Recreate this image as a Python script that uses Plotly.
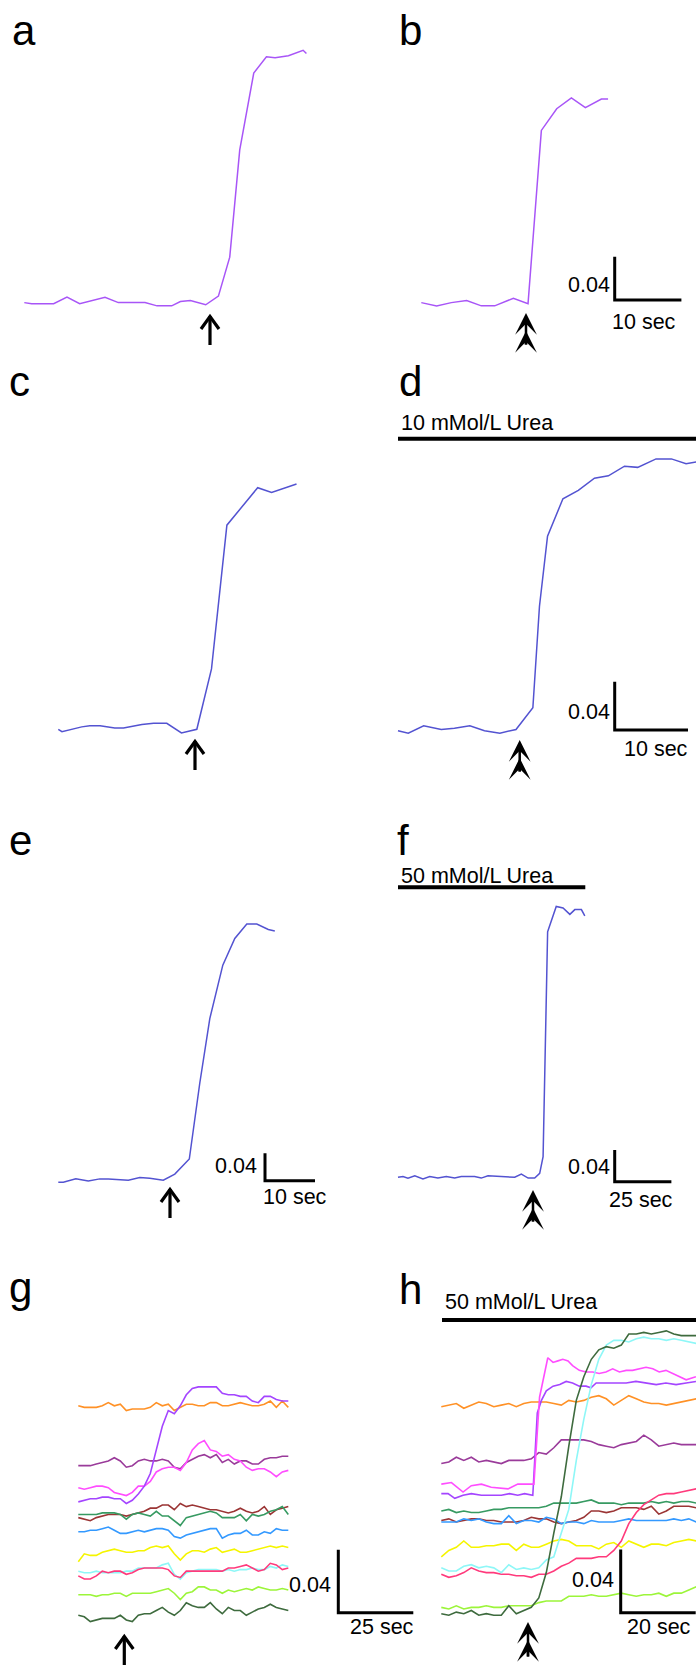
import plotly.graph_objects as go

W, H = 696, 1666
FONT = "Liberation Sans, Arial, Helvetica, sans-serif"

# ---------------- data (time in s, absorbance in OD units) ----------------
A_T = [0, 1.1, 4.4, 6.4, 8.3, 10.4, 12.1, 14.1, 18.1, 19.9, 22.1, 23.4, 24.9, 27.2, 29.1, 30.8, 32.3, 34.4, 36.3, 37.6, 39.6, 41.8, 42.3]
A_OD = [0.001, 0.000, 0.000, 0.006, 0.000, 0.003, 0.006, 0.001, 0.001, -0.002, -0.002, 0.002, 0.003, -0.001, 0.007, 0.043, 0.142, 0.213, 0.228, 0.227, 0.229, 0.234, 0.231]

B_T = [0, 2.3, 4.5, 6.8, 9.0, 11.0, 13.8, 16.0, 18.0, 20.3, 22.5, 24.6, 27.0, 28.0]
B_OD = [0.001, -0.002, 0.001, 0.003, -0.002, -0.002, 0.005, 0.000, 0.160, 0.180, 0.190, 0.181, 0.189, 0.189]

C_T = [0, 0.5, 3.2, 4.3, 5.7, 7.7, 8.9, 11.4, 13.0, 14.8, 16.8, 18.9, 20.9, 23.0, 27.2, 29.1, 32.5]
C_OD = [0.000, -0.002, 0.002, 0.003, 0.003, 0.001, 0.001, 0.004, 0.005, 0.005, -0.003, 0.000, 0.050, 0.169, 0.200, 0.196, 0.203]

D_T = [0, 1.4, 3.5, 5.9, 7.7, 9.8, 11.8, 13.9, 16.1, 18.4, 19.3, 20.4, 22.5, 24.6, 26.8, 28.7, 30.9, 32.7, 35.2, 37.3, 39.3, 41.2]
D_OD = [0.000, -0.002, 0.004, 0.001, 0.002, 0.004, 0.000, -0.002, 0.001, 0.019, 0.103, 0.161, 0.192, 0.199, 0.209, 0.211, 0.219, 0.218, 0.225, 0.225, 0.221, 0.223]

E_T = [0, 1.0, 3.5, 6.0, 8.3, 10.0, 14.0, 16.3, 18.3, 21.0, 23.3, 26.2, 28.3, 30.3, 32.9, 35.3, 37.7, 39.7, 42.0, 43.3]
E_OD = [0.000, 0.000, 0.005, 0.002, 0.005, 0.005, 0.003, 0.007, 0.006, 0.003, 0.012, 0.034, 0.145, 0.239, 0.317, 0.356, 0.377, 0.377, 0.369, 0.367]

F_T = [0, 2.2, 4.4, 7.4, 11.0, 14.0, 17.6, 21.3, 25.0, 27.9, 33.8, 36.7, 39.7, 48.5, 51.5, 54.4, 57.4, 60.3, 62.5, 64.0, 64.7, 65.6, 66.0, 66.6, 68.3, 69.8, 72.8, 75.8, 78.0, 80.9, 82.4]
F_OD = [0.000, 0.001, -0.001, 0.002, -0.002, 0.001, -0.001, 0.001, -0.001, 0.001, 0.001, -0.001, 0.002, 0.000, 0.000, 0.004, -0.001, -0.001, 0.005, 0.026, 0.132, 0.237, 0.310, 0.315, 0.331, 0.342, 0.340, 0.332, 0.338, 0.338, 0.330]

# panel g: 12 cells, common time base
G_T = [0, 2, 4, 6, 8, 10, 12, 14, 16, 18, 20, 22, 24, 26, 28, 30, 32, 34, 36, 38, 40, 42, 44, 46, 48, 50, 52, 54, 56, 58, 60, 62, 64, 66, 68, 70]
G_ORANGE = [0.136, 0.135, 0.135, 0.135, 0.136, 0.138, 0.136, 0.137, 0.133, 0.134, 0.134, 0.134, 0.135, 0.138, 0.136, 0.137, 0.133, 0.135, 0.137, 0.137, 0.136, 0.136, 0.138, 0.138, 0.136, 0.136, 0.137, 0.138, 0.137, 0.136, 0.136, 0.137, 0.139, 0.135, 0.139, 0.135]
G_VIOLET = [0.075, 0.076, 0.077, 0.077, 0.078, 0.078, 0.077, 0.077, 0.074, 0.076, 0.080, 0.085, 0.093, 0.108, 0.123, 0.133, 0.131, 0.136, 0.143, 0.147, 0.148, 0.148, 0.148, 0.148, 0.144, 0.143, 0.143, 0.142, 0.142, 0.139, 0.138, 0.142, 0.142, 0.140, 0.139, 0.139]
G_PLUM = [0.098, 0.098, 0.098, 0.099, 0.100, 0.101, 0.103, 0.101, 0.097, 0.098, 0.101, 0.102, 0.101, 0.101, 0.102, 0.101, 0.097, 0.096, 0.100, 0.102, 0.104, 0.105, 0.103, 0.105, 0.100, 0.102, 0.099, 0.101, 0.101, 0.099, 0.099, 0.102, 0.103, 0.103, 0.104, 0.104]
G_MAGENTA = [0.084, 0.083, 0.084, 0.085, 0.085, 0.084, 0.081, 0.080, 0.079, 0.081, 0.085, 0.085, 0.088, 0.094, 0.096, 0.097, 0.097, 0.095, 0.100, 0.108, 0.112, 0.114, 0.108, 0.107, 0.104, 0.105, 0.102, 0.101, 0.097, 0.095, 0.096, 0.096, 0.094, 0.091, 0.094, 0.095]
G_BROWN = [0.065, 0.064, 0.063, 0.065, 0.066, 0.067, 0.067, 0.067, 0.066, 0.067, 0.068, 0.069, 0.071, 0.071, 0.073, 0.073, 0.070, 0.074, 0.072, 0.073, 0.072, 0.071, 0.070, 0.070, 0.069, 0.068, 0.069, 0.071, 0.069, 0.068, 0.069, 0.072, 0.067, 0.070, 0.071, 0.072]
G_GREEN = [0.067, 0.067, 0.067, 0.067, 0.068, 0.068, 0.068, 0.067, 0.064, 0.067, 0.068, 0.067, 0.066, 0.069, 0.066, 0.066, 0.063, 0.060, 0.065, 0.066, 0.067, 0.068, 0.069, 0.068, 0.065, 0.065, 0.065, 0.067, 0.063, 0.067, 0.066, 0.067, 0.069, 0.070, 0.072, 0.067]
G_BLUE = [0.056, 0.056, 0.057, 0.057, 0.058, 0.059, 0.057, 0.055, 0.055, 0.056, 0.057, 0.056, 0.057, 0.058, 0.058, 0.057, 0.053, 0.052, 0.054, 0.055, 0.056, 0.057, 0.058, 0.058, 0.052, 0.054, 0.055, 0.055, 0.057, 0.054, 0.054, 0.056, 0.055, 0.058, 0.057, 0.057]
G_YELLOW = [0.037, 0.042, 0.041, 0.041, 0.043, 0.044, 0.045, 0.044, 0.043, 0.043, 0.044, 0.044, 0.046, 0.047, 0.046, 0.047, 0.042, 0.038, 0.042, 0.044, 0.044, 0.043, 0.045, 0.046, 0.043, 0.044, 0.045, 0.043, 0.043, 0.044, 0.045, 0.046, 0.047, 0.046, 0.047, 0.046]
G_CYAN = [0.031, 0.030, 0.030, 0.031, 0.030, 0.030, 0.030, 0.030, 0.031, 0.031, 0.033, 0.033, 0.033, 0.033, 0.035, 0.036, 0.029, 0.026, 0.030, 0.031, 0.032, 0.032, 0.032, 0.032, 0.031, 0.032, 0.031, 0.032, 0.032, 0.033, 0.032, 0.032, 0.034, 0.033, 0.035, 0.034]
G_ROSE = [0.028, 0.026, 0.026, 0.028, 0.031, 0.030, 0.031, 0.031, 0.029, 0.030, 0.032, 0.033, 0.033, 0.033, 0.033, 0.032, 0.028, 0.027, 0.031, 0.031, 0.031, 0.031, 0.031, 0.031, 0.031, 0.033, 0.033, 0.034, 0.035, 0.033, 0.031, 0.032, 0.036, 0.035, 0.032, 0.033]
G_LIME = [0.016, 0.016, 0.016, 0.015, 0.016, 0.016, 0.017, 0.017, 0.015, 0.017, 0.017, 0.017, 0.017, 0.018, 0.019, 0.020, 0.017, 0.013, 0.017, 0.018, 0.021, 0.021, 0.019, 0.019, 0.017, 0.019, 0.018, 0.019, 0.020, 0.019, 0.021, 0.020, 0.019, 0.019, 0.020, 0.019]
G_DKGREEN = [0.003, 0.002, -0.001, 0.000, 0.001, 0.001, 0.001, 0.003, 0.000, -0.001, 0.003, 0.004, 0.004, 0.006, 0.008, 0.005, 0.003, 0.006, 0.011, 0.009, 0.008, 0.008, 0.011, 0.007, 0.004, 0.008, 0.006, 0.006, 0.003, 0.005, 0.007, 0.008, 0.010, 0.008, 0.007, 0.006]

# panel h: 12 cells in 50 mMol/L urea
H_T = [0, 2, 4, 6, 8, 10, 12, 14, 16, 18, 20, 22, 24, 26, 28, 30, 32, 34, 36, 38, 40, 42, 44, 46, 48, 50, 52, 54, 56, 58, 60, 62, 64, 66, 68]
H_ORANGE = [0.135, 0.136, 0.137, 0.134, 0.136, 0.138, 0.137, 0.135, 0.136, 0.137, 0.135, 0.137, 0.138, 0.138, 0.138, 0.137, 0.136, 0.139, 0.138, 0.139, 0.141, 0.142, 0.140, 0.136, 0.139, 0.142, 0.140, 0.138, 0.137, 0.137, 0.136, 0.137, 0.138, 0.139, 0.140]
H_PLUM = [0.099, 0.100, 0.103, 0.101, 0.103, 0.100, 0.101, 0.100, 0.099, 0.101, 0.101, 0.101, 0.102, 0.106, 0.105, 0.109, 0.114, 0.114, 0.114, 0.114, 0.113, 0.111, 0.110, 0.109, 0.111, 0.112, 0.113, 0.117, 0.114, 0.110, 0.111, 0.112, 0.111, 0.111, 0.111]
H_GREEN = [0.069, 0.070, 0.068, 0.069, 0.068, 0.068, 0.069, 0.070, 0.070, 0.071, 0.071, 0.071, 0.071, 0.071, 0.072, 0.074, 0.074, 0.074, 0.074, 0.075, 0.076, 0.074, 0.074, 0.074, 0.073, 0.074, 0.074, 0.074, 0.075, 0.074, 0.075, 0.074, 0.075, 0.075, 0.074]
H_BROWN = [0.063, 0.064, 0.062, 0.063, 0.064, 0.064, 0.063, 0.063, 0.062, 0.062, 0.062, 0.063, 0.065, 0.064, 0.064, 0.062, 0.061, 0.062, 0.063, 0.065, 0.069, 0.069, 0.068, 0.069, 0.071, 0.071, 0.071, 0.070, 0.072, 0.067, 0.069, 0.072, 0.072, 0.072, 0.071]
H_BLUE = [0.062, 0.062, 0.062, 0.064, 0.063, 0.064, 0.062, 0.061, 0.061, 0.066, 0.061, 0.063, 0.063, 0.062, 0.065, 0.064, 0.061, 0.062, 0.062, 0.061, 0.063, 0.062, 0.062, 0.062, 0.063, 0.064, 0.063, 0.063, 0.063, 0.063, 0.063, 0.064, 0.063, 0.064, 0.062]
H_YELLOW = [0.040, 0.044, 0.046, 0.050, 0.046, 0.046, 0.047, 0.047, 0.048, 0.048, 0.044, 0.048, 0.046, 0.046, 0.048, 0.050, 0.051, 0.050, 0.047, 0.047, 0.047, 0.045, 0.048, 0.049, 0.046, 0.050, 0.048, 0.046, 0.048, 0.048, 0.047, 0.049, 0.050, 0.051, 0.050]
H_ROSE = [0.029, 0.027, 0.028, 0.030, 0.033, 0.031, 0.030, 0.030, 0.029, 0.029, 0.028, 0.028, 0.027, 0.029, 0.029, 0.031, 0.034, 0.036, 0.039, 0.039, 0.039, 0.040, 0.040, 0.044, 0.050, 0.061, 0.068, 0.073, 0.076, 0.079, 0.080, 0.080, 0.081, 0.082, 0.083]
H_CYAN = [0.033, 0.031, 0.031, 0.034, 0.035, 0.033, 0.034, 0.033, 0.030, 0.035, 0.032, 0.033, 0.032, 0.033, 0.038, 0.040, 0.055, 0.070, 0.101, 0.127, 0.149, 0.165, 0.174, 0.177, 0.177, 0.176, 0.178, 0.179, 0.178, 0.178, 0.177, 0.178, 0.177, 0.176, 0.175]
H_LIME = [0.008, 0.007, 0.009, 0.007, 0.008, 0.008, 0.009, 0.008, 0.008, 0.009, 0.009, 0.009, 0.009, 0.011, 0.012, 0.012, 0.012, 0.015, 0.015, 0.015, 0.016, 0.015, 0.015, 0.016, 0.017, 0.016, 0.015, 0.016, 0.016, 0.017, 0.015, 0.017, 0.017, 0.019, 0.021]
H_DKGREEN = [0.004, 0.003, 0.005, 0.004, 0.006, 0.003, 0.004, 0.003, 0.003, 0.009, 0.004, 0.006, 0.008, 0.014, 0.030, 0.055, 0.078, 0.110, 0.139, 0.154, 0.165, 0.171, 0.173, 0.172, 0.174, 0.181, 0.181, 0.182, 0.181, 0.182, 0.183, 0.181, 0.180, 0.180, 0.180]
H_MAGENTA_T = [0, 2.7, 5.8, 8.0, 10.7, 13.3, 17.8, 20.4, 24.7, 25.3, 26.2, 28.4, 29.8, 31.1, 32.4, 33.8, 35.0, 36.8, 38.6, 40.4, 42.1, 43.9, 45.7, 47.5, 49.3, 51.0, 52.8, 54.6, 56.4, 58.1, 59.9, 61.7, 63.5, 65.3, 67.9]
H_MAGENTA = [0.086, 0.087, 0.081, 0.085, 0.086, 0.084, 0.083, 0.086, 0.086, 0.110, 0.141, 0.166, 0.163, 0.164, 0.165, 0.164, 0.161, 0.158, 0.157, 0.157, 0.156, 0.157, 0.159, 0.157, 0.158, 0.158, 0.159, 0.160, 0.159, 0.157, 0.158, 0.156, 0.154, 0.152, 0.154]
H_VIOLET_T = [0, 1.8, 3.6, 5.8, 8.0, 10.7, 13.3, 16.0, 18.2, 20.4, 22.2, 24.4, 25.0, 25.6, 26.7, 28.0, 29.8, 31.6, 33.3, 35.0, 36.8, 38.6, 39.9, 41.3, 43.0, 44.8, 47.5, 49.3, 51.9, 54.6, 57.3, 59.9, 62.6, 65.3, 67.9]
H_VIOLET = [0.080, 0.080, 0.077, 0.079, 0.080, 0.079, 0.079, 0.079, 0.080, 0.079, 0.080, 0.079, 0.105, 0.131, 0.139, 0.145, 0.148, 0.149, 0.151, 0.150, 0.148, 0.148, 0.147, 0.150, 0.150, 0.150, 0.150, 0.150, 0.151, 0.150, 0.149, 0.150, 0.149, 0.150, 0.151]

COL = dict(orange="#ff9126", violet="#a445ff", plum="#9a3b9a", magenta="#ff4dff", brown="#9b3535",
           green="#379a62", blue="#3399ff", yellow="#f5f500", cyan="#8ef7f7", rose="#ff3a7c",
           lime="#9cf53a", dkgreen="#3e6b3e")
LAV = "#a855f7"
BLU = "#5353d1"

# ---------------- layout helpers (pixel geometry of each panel) ----------------
# box = (left, top, right, bottom) px; origin = px position of (t=0, OD=0); scale = (px per s, px per OD)
PANELS = [
    dict(box=(0, 0, 348, 340), origin=(24.3, 303.7), scale=(6.67, 1083)),     # a
    dict(box=(348, 0, 696, 340), origin=(421.3, 303.7), scale=(6.67, 1083)),  # b
    dict(box=(0, 340, 348, 790), origin=(58.3, 729.3), scale=(7.33, 1208)),   # c
    dict(box=(348, 340, 696, 790), origin=(398, 730.7), scale=(7.33, 1208)),  # d
    dict(box=(0, 790, 348, 1240), origin=(58.3, 1182.3), scale=(5.0, 685)),   # e
    dict(box=(348, 790, 696, 1240), origin=(398, 1177.3), scale=(2.267, 792)),# f
    dict(box=(0, 1240, 420, 1666), origin=(78.3, 1620), scale=(3.0, 1575)),   # g
    dict(box=(420, 1240, 696, 1666), origin=(441.3, 1620), scale=(3.75, 1580)),# h
]

layout = dict(width=W, height=H, margin=dict(l=0, r=0, t=0, b=0, pad=0),
              paper_bgcolor="white", plot_bgcolor="rgba(0,0,0,0)", showlegend=False,
              font=dict(family=FONT, color="black"))


def ref(i):
    return ("x" if i == 1 else f"x{i}"), ("y" if i == 1 else f"y{i}")


for i, p in enumerate(PANELS, start=1):
    l, t, r, b = p["box"]
    ox, oy = p["origin"]
    sx, sy = p["scale"]
    xk = "xaxis" if i == 1 else f"xaxis{i}"
    yk = "yaxis" if i == 1 else f"yaxis{i}"
    xr, yr = ref(i)
    layout[xk] = dict(domain=[l / W, r / W], range=[(l - ox) / sx, (r - ox) / sx], visible=False,
                      fixedrange=True, anchor=yr, showgrid=False, zeroline=False)
    layout[yk] = dict(domain=[1 - b / H, 1 - t / H], range=[(oy - b) / sy, (oy - t) / sy], visible=False,
                      fixedrange=True, anchor=xr, showgrid=False, zeroline=False)


def px2data(i, x, y):
    p = PANELS[i - 1]
    ox, oy = p["origin"]
    sx, sy = p["scale"]
    return (x - ox) / sx, (oy - y) / sy


fig = go.Figure()


def add_line(i, xs, ys, color, width=1.5):
    xr, yr = ref(i)
    fig.add_trace(go.Scatter(x=xs, y=ys, mode="lines", line=dict(color=color, width=width),
                             xaxis=xr, yaxis=yr, hoverinfo="skip"))


add_line(1, A_T, A_OD, LAV)
add_line(2, B_T, B_OD, LAV)
add_line(3, C_T, C_OD, BLU)
add_line(4, D_T, D_OD, BLU)
add_line(5, E_T, E_OD, BLU)
add_line(6, F_T, F_OD, BLU)

for ys, c in [(G_ORANGE, "orange"), (G_PLUM, "plum"), (G_BROWN, "brown"), (G_GREEN, "green"),
              (G_BLUE, "blue"), (G_YELLOW, "yellow"), (G_CYAN, "cyan"), (G_ROSE, "rose"),
              (G_LIME, "lime"), (G_DKGREEN, "dkgreen"), (G_MAGENTA, "magenta"), (G_VIOLET, "violet")]:
    add_line(7, G_T, ys, COL[c], 1.6)

for xs, ys, c in [(H_T, H_ORANGE, "orange"), (H_T, H_PLUM, "plum"), (H_T, H_GREEN, "green"),
                  (H_T, H_BROWN, "brown"), (H_T, H_BLUE, "blue"), (H_T, H_YELLOW, "yellow"),
                  (H_T, H_LIME, "lime"), (H_T, H_ROSE, "rose"),
                  (H_VIOLET_T, H_VIOLET, "violet"), (H_MAGENTA_T, H_MAGENTA, "magenta"),
                  (H_T, H_CYAN, "cyan"), (H_T, H_DKGREEN, "dkgreen")]:
    add_line(8, xs, ys, COL[c], 1.6)

shapes = []
annotations = []


def scalebar(i, corner_px, dt, dod, vlabel, hlabel, vpos, hpos):
    xr, yr = ref(i)
    tc, odc = px2data(i, *corner_px)
    shapes.append(dict(type="path", xref=xr, yref=yr,
                       path=f"M {tc},{odc + dod} L {tc},{odc} L {tc + dt},{odc}",
                       line=dict(color="black", width=3)))
    annotations.append(dict(text=vlabel, xref="paper", yref="paper", x=vpos[0] / W, y=1 - vpos[1] / H,
                            xanchor="right", yanchor="middle", showarrow=False, font=dict(size=21.5)))
    annotations.append(dict(text=hlabel, xref="paper", yref="paper", x=hpos[0] / W, y=1 - hpos[1] / H,
                            xanchor="center", yanchor="middle", showarrow=False, font=dict(size=21.5)))


scalebar(2, (614.7, 300.0), 10, 0.04, "0.04", "10 sec", (612, 285), (643.5, 322))
scalebar(4, (614.7, 730.0), 10, 0.04, "0.04", "10 sec", (612, 712), (655.5, 749))
scalebar(5, (265.0, 1180.7), 10, 0.04, "0.04", "10 sec", (259, 1165.7), (295, 1196.7))
scalebar(6, (614.7, 1181.7), 25, 0.04, "0.04", "25 sec", (612, 1166.7), (641, 1200))
scalebar(7, (338.3, 1612.7), 25, 0.04, "0.04", "25 sec", (332.5, 1585), (381.5, 1626.7))
scalebar(8, (620.7, 1612.7), 20, 0.04, "0.04", "20 sec", (615.5, 1580), (658.5, 1626.7))

# panel letters
for txt, x, yc in [("a", 10, 31), ("b", 397, 31), ("c", 7, 381), ("d", 397, 381),
                   ("e", 7, 840), ("f", 395, 840), ("g", 7, 1287), ("h", 397, 1289)]:
    annotations.append(dict(text=txt, xref="paper", yref="paper", x=x / W, y=1 - yc / H,
                            xanchor="left", yanchor="middle", showarrow=False, font=dict(size=42)))

# urea bars
for txt, x0, x1, ybar, ytxt in [("10 mMol/L Urea", 398, 696, 438.7, 422.7),
                                ("50 mMol/L Urea", 398, 585.3, 887.3, 876),
                                ("50 mMol/L Urea", 442, 696, 1320, 1301.7)]:
    shapes.append(dict(type="line", xref="paper", yref="paper", x0=x0 / W, x1=x1 / W,
                       y0=1 - ybar / H, y1=1 - ybar / H, line=dict(color="black", width=4)))
    annotations.append(dict(text=txt, xref="paper", yref="paper", x=(x0 + 1) / W, y=1 - ytxt / H,
                            xanchor="left", yanchor="middle", showarrow=False, font=dict(size=21.5)))


def P(x, y):
    return f"{x / W},{1 - y / H}"


def arrow(x, tip, length, double=False):
    if double:
        annotations.append(dict(text="", xref="paper", yref="paper", x=x / W, y=1 - tip / H, ax=0, ay=length - 4,
                                showarrow=True, arrowhead=3, arrowsize=1.45, arrowwidth=2.5, arrowcolor="black",
                                standoff=0, startstandoff=0))
        annotations.append(dict(text="", xref="paper", yref="paper", x=x / W, y=1 - (tip + 18) / H, ax=0,
                                ay=length - 22, showarrow=True, arrowhead=3, arrowsize=1.45, arrowwidth=2.5,
                                arrowcolor="black", standoff=0, startstandoff=0))
    else:
        # open "↑" arrow: shaft plus chevron head
        shapes.append(dict(type="path", xref="paper", yref="paper",
                           path=f"M {P(x, tip + length)} L {P(x, tip + 1)}",
                           line=dict(color="black", width=3.2)))
        shapes.append(dict(type="path", xref="paper", yref="paper",
                           path=f"M {P(x - 9, tip + 14)} L {P(x, tip + 1.5)} L {P(x + 9, tip + 14)}",
                           line=dict(color="black", width=3.2)))


arrow(210, 315, 30)
arrow(526, 313, 37, True)
arrow(195, 740, 30)
arrow(519.7, 740, 37, True)
arrow(170, 1188, 30)
arrow(533, 1190, 37, True)
arrow(124.3, 1635, 30)
arrow(528, 1622, 40, True)

layout["shapes"] = shapes
layout["annotations"] = annotations
fig.update_layout(**layout)
fig.write_html("out.html")
